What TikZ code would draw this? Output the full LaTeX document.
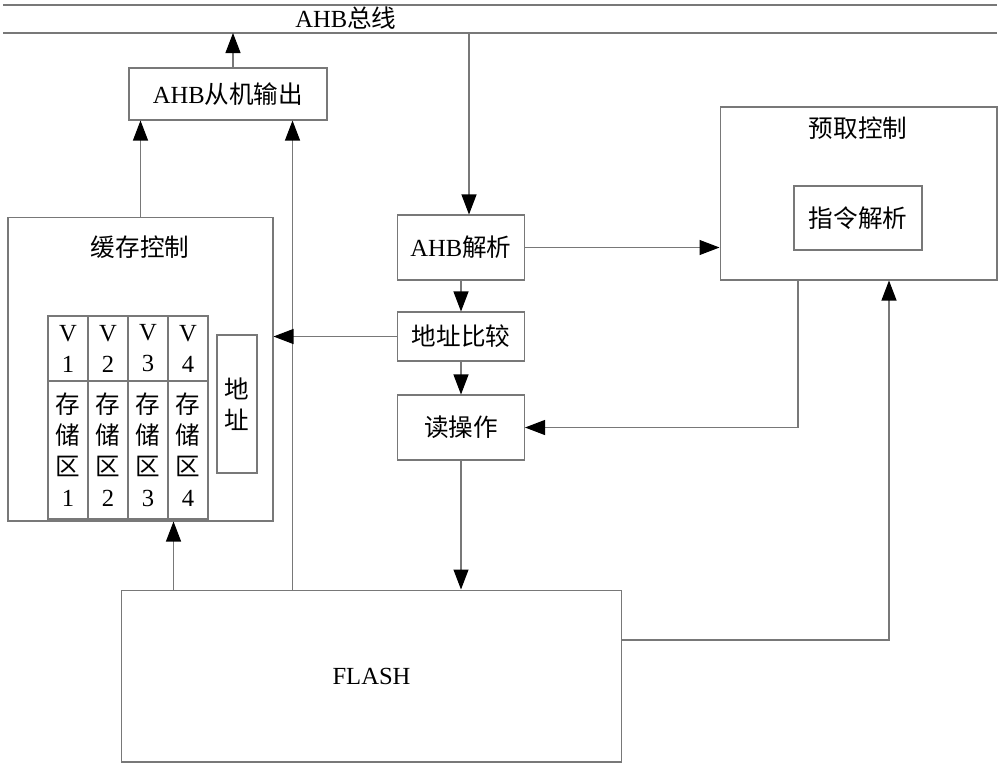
\documentclass[tikz,border=0pt]{standalone}
\usepackage{fontspec}
\setmainfont{Liberation Serif}
\newfontfamily\cjk{Noto Sans CJK SC}
\usetikzlibrary{arrows.meta}
\definecolor{edgegray}{RGB}{120,120,120}
\begin{document}
\begin{tikzpicture}[x=0.02cm,y=-0.02cm,
    every node/.style={font=\fontsize{14}{17.6}\selectfont},
    cjk/.style={font=\fontsize{14}{17.6}\selectfont\cjk},
    box/.style={draw=edgegray,line width=0.6pt,inner sep=0pt,align=center},
    wire/.style={draw=edgegray,line width=0.6pt},
    link/.style={wire,-{Triangle[length=4mm,width=3mm,color=black]}}]
                \useasboundingbox (0,0) rectangle (1000,765);
                \coordinate (topL) at (3,5);
                \coordinate (topR) at (997,5);
                \coordinate (busL) at (3,33);
                \coordinate (busR) at (997,33);
                \draw[wire] (topL)--(topR);
                \draw[wire] (busL)--(busR);
                \node (busname) at (346,18) {AHB{\cjk 总线}};
                \node[box,minimum width=3.96cm,minimum height=1.04cm] (slave) at (228,94) {AHB{\cjk 从机输出}};
                \node[box,minimum width=5.3cm,minimum height=6.08cm] (cache) at (140.5,369) {};
                \node[cjk] (cachename) at (140,247) {缓存控制};
                \foreach \i in {1,...,4} {
                    \node[box,minimum width=0.8cm,minimum height=1.3cm] (v\i) at (28+40*\i,348.5) {V\\\i};
                    \node[box,cjk,minimum width=0.8cm,minimum height=2.76cm] (s\i) at (28+40*\i,450) {存\\储\\区\\\rmfamily\i};
                }
                \node[box,cjk,minimum width=0.8cm,minimum height=2.76cm] (addr) at (237,404) {地\\址};
                \node[box,minimum width=2.54cm,minimum height=1.3cm] (parse) at (461,247.5) {AHB{\cjk 解析}};
                \node[box,cjk,minimum width=2.54cm,minimum height=0.98cm] (cmp) at (461,336.5) {地址比较};
                \node[box,cjk,minimum width=2.54cm,minimum height=1.3cm] (read) at (461,427.5) {读操作};
                \node[box,minimum width=5.54cm,minimum height=3.46cm] (prefetch) at (858.5,193.5) {};
                \node[cjk] (prefetchname) at (858,128) {预取控制};
                \node[box,cjk,minimum width=2.56cm,minimum height=1.28cm] (decode) at (858,218) {指令解析};
                \node[box,minimum width=10.02cm,minimum height=3.44cm] (flash) at (371.5,676) {FLASH};
                \coordinate (out) at ([xshift=1mm]slave.north);
                \coordinate (in) at ([xshift=1.6mm]parse.north);
                \coordinate (feed) at ([xshift=-7mm]slave.south east);
                \coordinate (fill) at ([xshift=1.06cm]flash.north west);
                \coordinate (back) at ([xshift=-1.21cm]prefetch.south);
                \coordinate (flashout) at ([yshift=0.72cm]flash.east);
                \coordinate (hint) at ([xshift=0.61cm]prefetch.south);
                \draw[link] (out)--(out |- busL);
                \draw[link] (busL -| in)--(in);
                \draw[link] (cache.north)--(cache.north |- slave.south);
                \draw[link] (feed |- flash.north)--(feed);
                \draw[link] (fill)--(fill |- cache.south);
                \draw[link] (cmp.west)--(cmp.west -| cache.east);
                \draw[link] (parse)--(cmp);
                \draw[link] (cmp)--(read);
                \draw[link] (read.south)--(read.south |- flash.north);
                \draw[link] (parse.east)--(parse.east -| prefetch.west);
                \draw[link] (back) |- (read.east);
                \draw[link] (flashout) -| (hint);
            \end{tikzpicture}
\end{document}
